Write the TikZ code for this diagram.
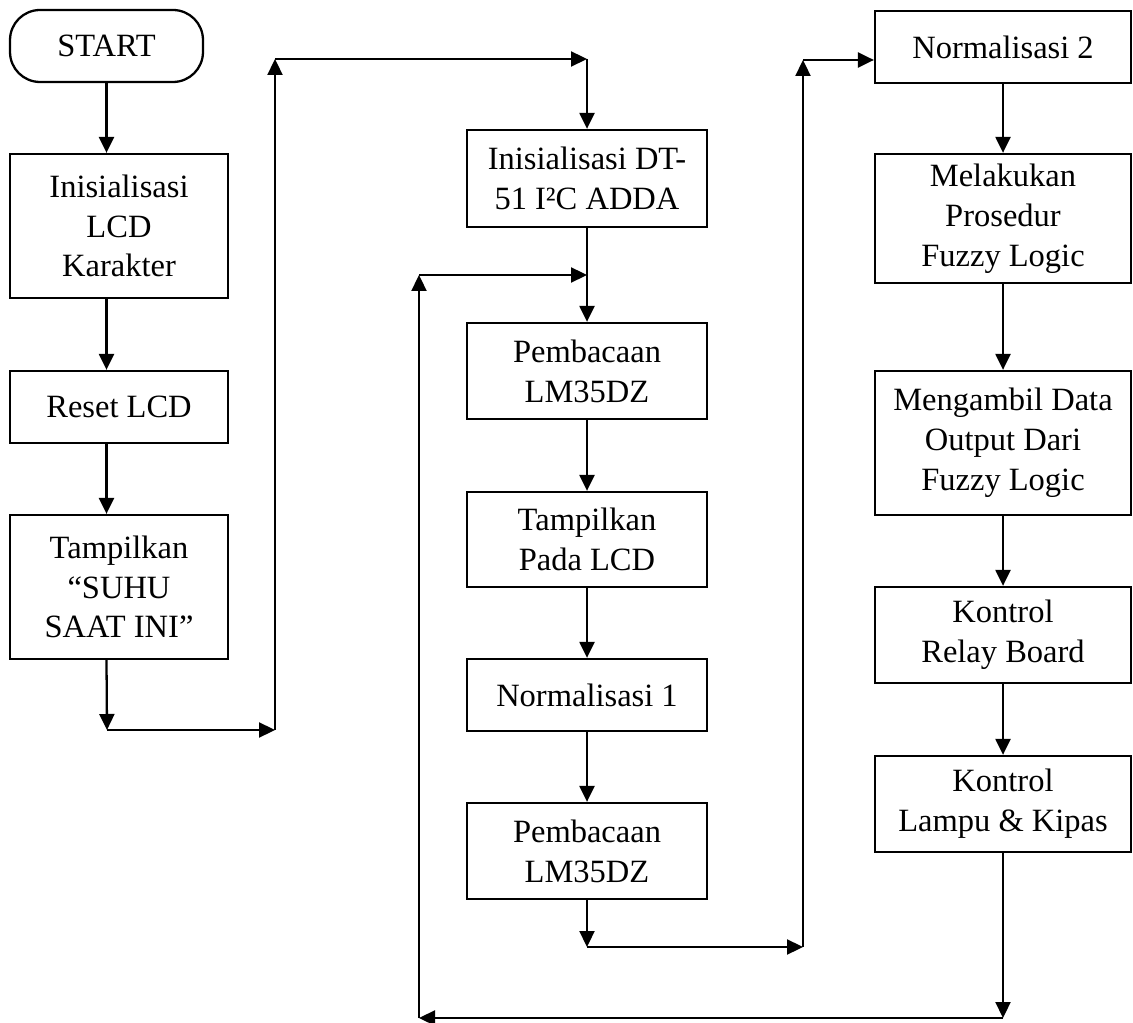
\documentclass[tikz,border=0pt]{standalone}
\usepackage{fontspec}
\setmainfont{Liberation Serif}
\usetikzlibrary{arrows.meta}
\tikzset{
  box/.style={draw,line width=1.3pt,align=center,inner sep=2pt,
    font=\fontsize{18.5}{22.7}\selectfont},
  colA/.style={box,minimum width=4.36cm},
  colB/.style={box,minimum width=4.8cm},
  colC/.style={box,minimum width=5.12cm},
  arr/.style={line width=1.3pt,-{Triangle[length=0.32cm,width=0.3cm]}}
}
\begin{document}
\begin{tikzpicture}[x=0.02cm,y=-0.02cm]
  \useasboundingbox (0,0) rectangle (1133,1023);

  % kolom kiri
  \node[box,rounded corners=0.6cm,minimum width=3.86cm,minimum height=1.44cm]
    (start) at (106.5,46) {START};
  \node[colA,minimum height=2.88cm] (lcd) at (119,226)
    {Inisialisasi\\LCD\\Karakter};
  \node[colA,minimum height=1.44cm] (reset) at (119,407) {Reset LCD};
  \node[colA,minimum height=2.88cm] (suhu) at (119,587)
    {Tampilkan\\“SUHU\\SAAT INI”};

  % kolom tengah
  \node[colB,minimum height=1.94cm] (adda) at (587,178.5)
    {Inisialisasi DT-\\51 I²C ADDA};
  \node[colB,minimum height=1.92cm] (baca1) at (587,371)
    {Pembacaan\\LM35DZ};
  \node[colB,minimum height=1.9cm] (tampil) at (587,539.5)
    {Tampilkan\\Pada LCD};
  \node[colB,minimum height=1.44cm] (norm1) at (587,695) {Normalisasi 1};
  \node[colB,minimum height=1.92cm] (baca2) at (587,851)
    {Pembacaan\\LM35DZ};

  % kolom kanan
  \node[colC,minimum height=1.44cm] (norm2) at (1003,47) {Normalisasi 2};
  \node[colC,minimum height=2.58cm] (fuzzy) at (1003,218.5)
    {Melakukan\\Prosedur\\Fuzzy Logic};
  \node[colC,minimum height=2.88cm] (ambil) at (1003,443)
    {Mengambil Data\\Output Dari\\Fuzzy Logic};
  \node[colC,minimum height=1.92cm] (relay) at (1003,635)
    {Kontrol\\Relay Board};
  \node[colC,minimum height=1.92cm] (lampu) at (1003,804)
    {Kontrol\\Lampu \& Kipas};

  % titik belok
  \coordinate (a1) at (107,730);
  \coordinate (a2) at (275,730);
  \coordinate (a3) at (275,59);
  \coordinate (a4) at (587,59);
  \coordinate (j1) at (587,275);
  \coordinate (b1) at (587,947);
  \coordinate (b2) at (803,947);
  \coordinate (b3) at (803,60);
  \coordinate (l1) at (1003,1018);
  \coordinate (l2) at (419,1018);
  \coordinate (l3) at (419,275);

  \draw[arr] (start) -- (start |- lcd.north);
  \draw[arr] (lcd.south -| start) -- (reset.north -| start);
  \draw[arr] (reset.south -| start) -- (suhu.north -| start);
  \draw[arr] (suhu.south -| start) -- (a1);
  \draw[arr] (a1) -- (a2);
  \draw[arr] (a2) -- (a3);
  \draw[arr] (a3) -- (a4);
  \draw[arr] (a4) -- (adda);

  \draw[arr] (adda) -- (baca1);
  \draw[arr] (baca1) -- (tampil);
  \draw[arr] (tampil) -- (norm1);
  \draw[arr] (norm1) -- (baca2);
  \draw[arr] (baca2) -- (b1);
  \draw[arr] (b1) -- (b2);
  \draw[arr] (b2) -- (b3);
  \draw[arr] (b3) -- (b3 -| norm2.west);

  \draw[arr] (norm2) -- (fuzzy);
  \draw[arr] (fuzzy) -- (ambil);
  \draw[arr] (ambil) -- (relay);
  \draw[arr] (relay) -- (lampu);
  \draw[arr] (lampu) -- (l1);
  \draw[arr] (l1) -- (l2);
  \draw[arr] (l2) -- (l3);
  \draw[arr] (l3) -- (j1);
\end{tikzpicture}
\end{document}
